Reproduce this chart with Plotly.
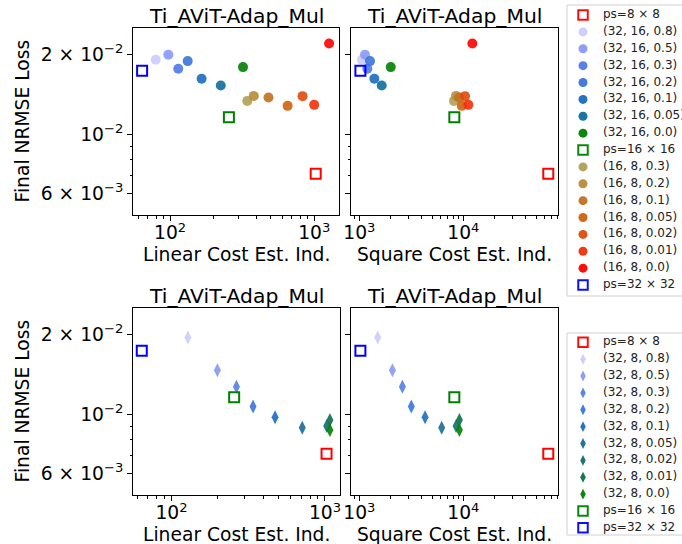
import numpy as np
import plotly.graph_objects as go

W, H = 682, 544
FONT = "DejaVu Sans"

# ---------------- data ----------------
# baselines (patch size)
base_labels = ["ps=8 × 8", "ps=16 × 16", "ps=32 × 32"]
base_colors = ["#ff0000", "#008000", "#0000ff"]
base_lin = [1024, 256, 64]
base_sq = [65536, 8192, 1024]
base_loss = [0.0071, 0.01159, 0.0173]

# (32, 16, r) adaptive runs - circles (top row)
r_32_16 = ["0.8", "0.5", "0.3", "0.2", "0.1", "0.05", "0.0"]
col_32_16 = ["#ccccff", "#8898f8", "#5079e6", "#3a74da", "#1b6cc0", "#0e6ea0", "#008000"]
lin_32_16 = [79.6, 97.3, 114, 132.5, 165.6, 224.9, 320.7]
sq_32_16 = [1060, 1134, 1194, 1267, 1394, 1642, 2005]
loss_32_16 = [0.01903, 0.01987, 0.01762, 0.01882, 0.01615, 0.01524, 0.01787]

# (16, 8, r) adaptive runs - circles (top row)
r_16_8 = ["0.3", "0.2", "0.1", "0.05", "0.02", "0.01", "0.0"]
col_16_8 = ["#b0a055", "#b98b3a", "#c27020", "#d0620f", "#e04a0c", "#f0300a", "#ff0000"]
lin_16_8 = [343.5, 381, 481.6, 654, 830, 1000, 1268]
sq_16_8 = [8130, 8510, 9130, 9660, 10380, 11170, 12210]
loss_16_8 = [0.01334, 0.01393, 0.01374, 0.01278, 0.0139, 0.01289, 0.02193]

# (32, 8, r) adaptive runs - diamonds (bottom row)
r_32_8 = ["0.8", "0.5", "0.3", "0.2", "0.1", "0.05", "0.02", "0.01", "0.0"]
col_32_8 = ["#ccccff", "#8899f0", "#5080e6", "#3a74da", "#1b6cc0", "#166a98", "#0f7070", "#0a7048", "#008000"]
lin_32_8 = [127.8, 199, 265, 340, 473, 711, 1026, 1077, 1077]
sq_32_8 = [1502, 2081, 2595, 3162, 4286, 6190, 8510, 9160, 9160]
loss_32_8 = [0.0194, 0.01464, 0.01267, 0.01068, 0.00974, 0.0089, 0.00903, 0.00952, 0.00873]

title_text = "Ti_AViT-Adap_Mul"
xlabel_lin = "Linear Cost Est. Ind."
xlabel_sq = "Square Cost Est. Ind."
ylabel = "Final NRMSE Loss"
y_major = [0.006, 0.01, 0.02]
y_major_text = ["6 × 10<sup>−3</sup>", "10<sup>−2</sup>", "2 × 10<sup>−2</sup>"]
y_minor = [0.007, 0.008, 0.009]

# ---------------- layout helpers ----------------
def pxx(p):
    return p / W

def pxy(p):
    return 1 - p / H

fig = go.Figure()

panels = {
    "TL": ("x", "y", (133, 339), (28, 215), [1.743, 3.172], [100, 1000],
           [60, 70, 80, 90, 200, 300, 400, 500, 600, 700, 800, 900]),
    "TR": ("x2", "y2", (351, 558), (28, 215), [2.92, 4.91], [1000, 10000],
           [900, 2000, 3000, 4000, 5000, 6000, 7000, 8000, 9000, 20000, 30000, 40000, 50000, 60000, 70000, 80000]),
    "BL": ("x3", "y3", (133, 340), (308, 495), [1.749, 3.098], [100, 1000],
           [60, 70, 80, 90, 200, 300, 400, 500, 600, 700, 800, 900]),
    "BR": ("x4", "y4", (351, 558), (308, 495), [2.92, 4.91], [1000, 10000],
           [900, 2000, 3000, 4000, 5000, 6000, 7000, 8000, 9000, 20000, 30000, 40000, 50000, 60000, 70000, 80000]),
}

TICKFONT = dict(family=FONT, size=18.7, color="black")
layout_axes = {}
for name, (xa, ya, xd, yd, xr, xmaj, xmin) in panels.items():
    xkey = "xaxis" + xa[1:]
    ykey = "yaxis" + ya[1:]
    layout_axes[xkey] = dict(
        type="log", domain=[pxx(xd[0]), pxx(xd[1])], range=xr, anchor=ya,
        automargin=False,
        tickmode="array", tickvals=xmaj,
        ticktext=[f"10<sup>{int(round(np.log10(v)))}</sup>" for v in xmaj],
        ticks="outside", ticklen=5, tickwidth=1, tickcolor="black",
        ticklabelstandoff=-4,
        minor=dict(tickmode="array", tickvals=xmin, ticks="outside", ticklen=2.5,
                   tickwidth=0.8, tickcolor="black", showgrid=False),
        showline=True, linecolor="black", linewidth=1, mirror=True,
        showgrid=False, zeroline=False,
        tickfont=TICKFONT,
    )
    layout_axes[ykey] = dict(
        type="log", domain=[pxy(yd[1]), pxy(yd[0])], range=[-2.3036, -1.601], anchor=xa,
        automargin=False,
        tickmode="array", tickvals=y_major, ticktext=y_major_text,
        showticklabels=name in ("TL", "BL"),
        ticks="outside", ticklen=5, tickwidth=1, tickcolor="black",
        minor=dict(tickmode="array", tickvals=y_minor, ticks="outside", ticklen=2.5,
                   tickwidth=0.8, tickcolor="black", showgrid=False),
        showline=True, linecolor="black", linewidth=1, mirror=True,
        showgrid=False, zeroline=False,
        tickfont=TICKFONT,
    )

def add_points(xa, ya, xs, ys, colors, symbol, size, opacity=0.9):
    for xv, yv, c in zip(xs, ys, colors):
        fig.add_trace(go.Scatter(
            x=[xv], y=[yv], xaxis=xa, yaxis=ya, mode="markers", showlegend=False,
            marker=dict(symbol=symbol, size=size, color=c, opacity=opacity,
                        line=dict(width=0)),
            hoverinfo="skip"))

def add_base(xa, ya, xs):
    for xv, yv, c in zip(xs, base_loss, base_colors):
        fig.add_trace(go.Scatter(
            x=[xv], y=[yv], xaxis=xa, yaxis=ya, mode="markers", showlegend=False,
            marker=dict(symbol="square-open", size=10, color=c, line=dict(width=2, color=c)),
            hoverinfo="skip"))

# top row: circles
for xa, ya, xs32, xs16, xb in [("x", "y", lin_32_16, lin_16_8, base_lin),
                               ("x2", "y2", sq_32_16, sq_16_8, base_sq)]:
    add_points(xa, ya, xs32, loss_32_16, col_32_16, "circle", 10)
    add_points(xa, ya, xs16, loss_16_8, col_16_8, "circle", 10)
    add_base(xa, ya, xb)

# bottom row: diamonds
for xa, ya, xs, xb in [("x3", "y3", lin_32_8, base_lin), ("x4", "y4", sq_32_8, base_sq)]:
    add_points(xa, ya, xs, loss_32_8, col_32_8, "diamond-tall", 10)
    add_base(xa, ya, xb)

# ---------------- legends (drawn as scatter on hidden axes) ----------------
top_leg_labels = ([base_labels[0]] + [f"(32, 16, {r})" for r in r_32_16] + [base_labels[1]]
                  + [f"(16, 8, {r})" for r in r_16_8] + [base_labels[2]])
top_leg_colors = [base_colors[0]] + col_32_16 + [base_colors[1]] + col_16_8 + [base_colors[2]]
top_leg_symbols = (["square-open"] + ["circle"] * len(r_32_16) + ["square-open"]
                   + ["circle"] * len(r_16_8) + ["square-open"])

bot_leg_labels = ([base_labels[0]] + [f"(32, 8, {r})" for r in r_32_8] + [base_labels[1], base_labels[2]])
bot_leg_colors = [base_colors[0]] + col_32_8 + [base_colors[1], base_colors[2]]
bot_leg_symbols = ["square-open"] + ["diamond-tall"] * len(r_32_8) + ["square-open", "square-open"]

def legend(xa, ya, labels, colors, symbols, ydom_px, first_px, step_px):
    n = len(labels)
    idx = list(range(n))
    sizes = [9 if s == "circle" else (7.8 if s == "diamond-tall" else 9.5) for s in symbols]
    widths = [2 if s == "square-open" else 0 for s in symbols]
    fig.add_trace(go.Scatter(
        x=[0] * n, y=idx, xaxis=xa, yaxis=ya, mode="markers", showlegend=False,
        marker=dict(symbol=symbols, size=sizes, color=colors, opacity=0.95,
                    line=dict(width=widths, color=colors)),
        cliponaxis=False, hoverinfo="skip"))
    fig.add_trace(go.Scatter(
        x=[1] * n, y=idx, xaxis=xa, yaxis=ya, mode="text", showlegend=False,
        text=labels, textposition="middle right",
        textfont=dict(family=FONT, size=12.0, color="#222222"),
        cliponaxis=False, hoverinfo="skip"))
    k_top = (ydom_px[0] - first_px) / step_px
    k_bot = (ydom_px[1] - first_px) / step_px
    layout_axes["xaxis" + xa[1:]] = dict(domain=[pxx(567), 1.0], range=[-0.8, 4.95],
                                         visible=False, anchor=ya, fixedrange=True,
                                         automargin=False, showticklabels=False)
    layout_axes["yaxis" + ya[1:]] = dict(domain=[pxy(ydom_px[1]), pxy(ydom_px[0])],
                                         range=[k_bot, k_top], visible=False, anchor=xa,
                                         fixedrange=True, automargin=False,
                                         showticklabels=False)

legend("x5", "y5", top_leg_labels, top_leg_colors, top_leg_symbols, (5, 296), 15, 16.875)
legend("x6", "y6", bot_leg_labels, bot_leg_colors, bot_leg_symbols, (333, 535), 342.3, 16.87)

shapes = [
    dict(type="rect", xref="paper", yref="paper", x0=pxx(567), x1=pxx(700), y0=pxy(296), y1=pxy(5),
         line=dict(color="#d0d0d0", width=1), layer="below"),
    dict(type="rect", xref="paper", yref="paper", x0=pxx(567), x1=pxx(700), y0=pxy(535), y1=pxy(333),
         line=dict(color="#d0d0d0", width=1), layer="below"),
]

# ---------------- annotations (titles, axis labels) ----------------
ann = []
for name, (xa, ya, xd, yd, *_rest) in panels.items():
    cx = pxx((xd[0] + xd[1]) / 2)
    ann.append(dict(text=title_text, x=cx, y=pxy(yd[0] - 12), xref="paper", yref="paper",
                    xanchor="center", yanchor="middle", showarrow=False,
                    font=dict(family=FONT, size=20.3, color="black")))
    ann.append(dict(text=xlabel_lin if name in ("TL", "BL") else xlabel_sq,
                    x=cx, y=pxy(yd[1] + 39), xref="paper", yref="paper",
                    xanchor="center", yanchor="middle", showarrow=False,
                    font=dict(family=FONT, size=18.7, color="black")))
    if name in ("TL", "BL"):
        ann.append(dict(text=ylabel, x=pxx(22), y=pxy((yd[0] + yd[1]) / 2),
                        xref="paper", yref="paper", xanchor="center", yanchor="middle",
                        textangle=-90, showarrow=False,
                        font=dict(family=FONT, size=18.7, color="black")))

fig.update_layout(
    width=W, height=H, autosize=False,
    margin=dict(l=0, r=0, t=0, b=0, pad=0, autoexpand=False),
    paper_bgcolor="white", plot_bgcolor="white",
    font=dict(family=FONT, color="black"),
    showlegend=False,
    annotations=ann, shapes=shapes,
    **layout_axes,
)

fig.write_html(
    "out.html",
    config={"displayModeBar": False},
    post_script="document.body.style.margin='0';document.body.style.padding='0';"
                "document.body.style.overflow='hidden';",
)
